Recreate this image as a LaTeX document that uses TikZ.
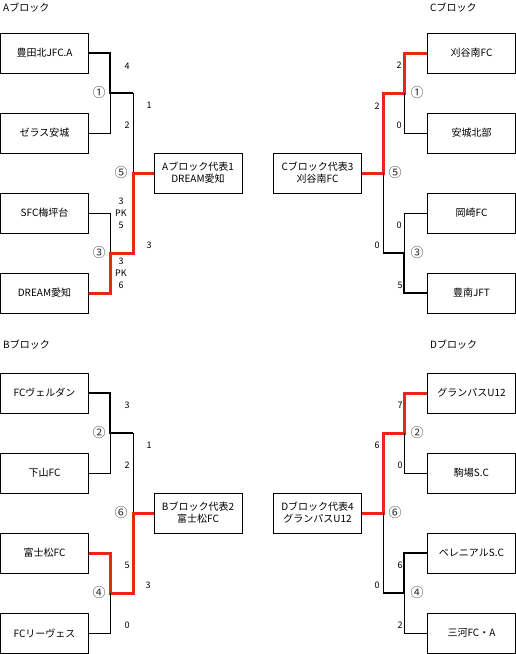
\documentclass[tikz,border=0pt]{standalone}
\usepackage{fontspec}
\setmainfont{Noto Sans CJK JP}
\definecolor{winred}{RGB}{232,40,20}

\begin{document}
\begin{tikzpicture}[x=1pt, y=-1pt,
  team/.style={draw, line width=0.8pt, minimum width=88pt, minimum height=40pt, inner sep=0pt, align=center, font=\fontsize{10}{12}\selectfont},
  score/.style={inner sep=0pt, align=center, font=\fontsize{9}{12}\selectfont},
  match/.style={inner sep=0pt, text=black!80, font=\fontsize{13}{13}\selectfont},
  block/.style={inner sep=0pt, anchor=west, font=\fontsize{10}{12}\selectfont},
  loser/.style={line width=0.8pt},
  winner/.style={line width=2.4pt},
  final/.style={line width=3pt, winred}]

\useasboundingbox (0,0) rectangle (516,654);

% block titles
\node[block] (tA) at (3,8) {Aブロック};
\node[block] (tC) at (430,8) {Cブロック};
\node[block] (tB) at (3,345) {Bブロック};
\node[block] (tD) at (430,345) {Dブロック};

% A block
\node[team] (a1) at (44.5,53) {豊田北JFC.A};
\node[team] (a2) at (44.5,133) {ゼラス安城};
\node[team] (a3) at (44.5,213) {SFC梅坪台};
\node[team] (a4) at (44.5,293) {DREAM愛知};
\node[team] (wa) at (198,173) {Aブロック代表1\\DREAM愛知};
\coordinate (m1) at (110,93);
\coordinate (m3) at (110,253);
\coordinate (m5) at (133,173);
\draw[winner] (a1.east) -| (m1) -- (m1 -| m5);
\draw[loser] (a2.east) -| (m1);
\draw[loser] (m1 -| m5) -- (m5);
\draw[loser] (a3.east) -| (m3);
\draw[final] (a4.east) -| (m3) -- (m3 -| m5) -- (m5) -- (wa.west);
\node[score] (sa1) at (127,66) {4};
\node[score] (sa2) at (127,125) {2};
\node[score] (sa3) at (121,213) {3\\PK\\5};
\node[score] (sa4) at (121,273) {3\\PK\\6};
\node[score] (sa5) at (149,105) {1};
\node[score] (sa6) at (149,245) {3};
\node[match] (ma1) at (99,93) {①};
\node[match] (ma3) at (99,253) {③};
\node[match] (ma5) at (121,173) {⑤};

% C block
\node[team] (c1) at (471.5,53) {刈谷南FC};
\node[team] (c2) at (471.5,133) {安城北部};
\node[team] (c3) at (471.5,213) {岡崎FC};
\node[team] (c4) at (471.5,293) {豊南JFT};
\node[team] (wc) at (317.5,173) {Cブロック代表3\\刈谷南FC};
\coordinate (n1) at (404,93);
\coordinate (n3) at (404,253);
\coordinate (n5) at (383,173);
\draw[final] (c1.west) -| (n1) -- (n1 -| n5) -- (n5) -- (wc.east);
\draw[loser] (c2.west) -| (n1);
\draw[loser] (c3.west) -| (n3);
\draw[winner] (c4.west) -| (n3) -- (n3 -| n5);
\draw[loser] (n3 -| n5) -- (n5);
\node[score] (sc1) at (399,65) {2};
\node[score] (sc2) at (399,125) {0};
\node[score] (sc3) at (399,225) {0};
\node[score] (sc4) at (400,285) {5};
\node[score] (sc5) at (377,106) {2};
\node[score] (sc6) at (377,245) {0};
\node[match] (mc1) at (417,93) {①};
\node[match] (mc3) at (417,253) {③};
\node[match] (mc5) at (395,173) {⑤};

% B block
\node[team] (b1) at (44.5,393) {FCヴェルダン};
\node[team] (b2) at (44.5,473) {下山FC};
\node[team] (b3) at (44.5,553) {富士松FC};
\node[team] (b4) at (44.5,633) {FCリーヴェス};
\node[team] (wb) at (198,513) {Bブロック代表2\\富士松FC};
\coordinate (p2) at (110,433);
\coordinate (p4) at (110,593);
\coordinate (p6) at (133,513);
\draw[winner] (b1.east) -| (p2) -- (p2 -| p6);
\draw[loser] (b2.east) -| (p2);
\draw[loser] (p2 -| p6) -- (p6);
\draw[final] (b3.east) -| (p4) -- (p4 -| p6) -- (p6) -- (wb.west);
\draw[loser] (b4.east) -| (p4);
\node[score] (sb1) at (127,405) {3};
\node[score] (sb2) at (127,465) {2};
\node[score] (sb3) at (127,565) {5};
\node[score] (sb4) at (127,625) {0};
\node[score] (sb5) at (149,445) {1};
\node[score] (sb6) at (148,585) {3};
\node[match] (mb2) at (99,433) {②};
\node[match] (mb4) at (99,593) {④};
\node[match] (mb6) at (121,513) {⑥};

% D block
\node[team] (d1) at (471.5,393) {グランパスU12};
\node[team] (d2) at (471.5,473) {駒場S.C};
\node[team] (d3) at (471.5,553) {ペレニアルS.C};
\node[team] (d4) at (471.5,633) {三河FC・A};
\node[team] (wd) at (317.5,513) {Dブロック代表4\\グランパスU12};
\coordinate (q2) at (404,433);
\coordinate (q4) at (404,593);
\coordinate (q6) at (383,513);
\draw[final] (d1.west) -| (q2) -- (q2 -| q6) -- (q6) -- (wd.east);
\draw[loser] (d2.west) -| (q2);
\draw[winner] (d3.west) -| (q4) -- (q4 -| q6);
\draw[loser] (d4.west) -| (q4);
\draw[loser] (q4 -| q6) -- (q6);
\node[score] (sd1) at (400,405) {7};
\node[score] (sd2) at (400,465) {0};
\node[score] (sd3) at (400,565) {6};
\node[score] (sd4) at (400,625) {2};
\node[score] (sd5) at (377,445) {6};
\node[score] (sd6) at (377,585) {0};
\node[match] (md2) at (417,433) {②};
\node[match] (md4) at (417,593) {④};
\node[match] (md6) at (395,513) {⑥};
\end{tikzpicture}
\end{document}
